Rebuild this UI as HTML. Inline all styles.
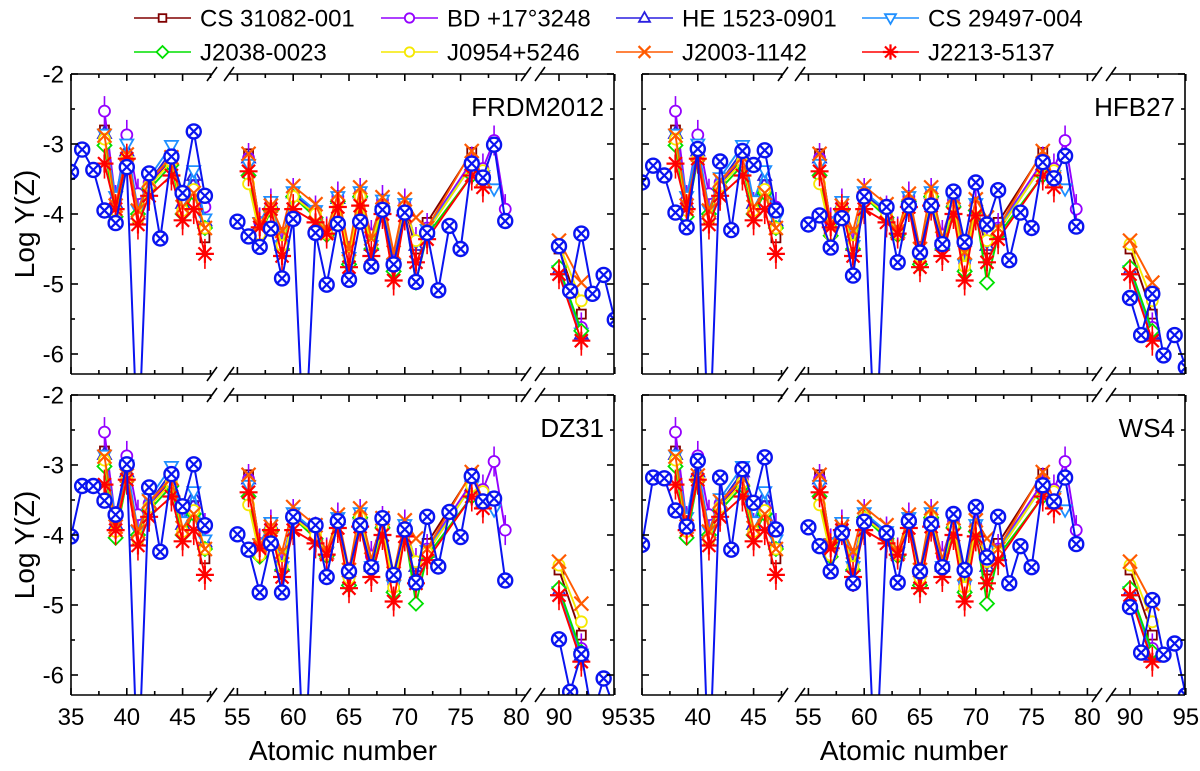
<!DOCTYPE html>
<html><head><meta charset="utf-8"><style>
html,body{margin:0;padding:0;background:#fff;}
svg{display:block;font-family:"Liberation Sans",Arial,sans-serif;}
</style></head><body>
<svg id="chart" width="1200" height="771" viewBox="0 0 1200 771" xmlns="http://www.w3.org/2000/svg"></svg>
<script>
// ---- data ----
const starNames = ["CS 31082-001","BD +17°3248","HE 1523-0901","CS 29497-004","J2038-0023","J0954+5246","J2003-1142","J2213-5137"];
const starZ = [38,39,40,41,42,44,45,46,47,56,57,58,59,60,62,63,64,65,66,67,68,69,70,71,72,76,77,78,79,90,92];
const cs31082 = [-2.8,-3.88,-3.18,-4.07,-3.6,-3.2,-3.95,-3.57,-4.34,-3.14,-4.15,-3.88,-4.45,-3.7,-4.0,-4.27,-3.8,-4.65,-3.72,-4.45,-3.85,-4.75,-3.9,-4.5,-4.12,-3.12,-3.45,null,null,-4.5,-5.43];
const bd17 = [-2.53,-3.8,-2.87,-3.71,-3.55,-3.2,-3.9,-3.6,-3.9,-3.2,-4.12,-3.85,-4.4,-3.7,-3.95,-4.25,-3.75,-4.6,-3.7,-4.3,-3.8,-4.7,-3.85,-4.4,-4.2,-3.25,-3.35,-2.95,-3.93,null,-5.62];
const he1523 = [-2.85,-3.85,-3.1,-4.0,-3.55,-3.1,-3.85,-3.45,-4.1,-3.2,-4.15,-3.85,-4.45,-3.7,-4.0,-4.27,-3.78,-4.65,-3.7,-4.45,-3.82,-4.75,-3.88,-4.45,-4.25,-3.3,-3.45,null,null,-4.8,-5.72];
const cs29497 = [-2.86,-3.75,-3.0,-3.94,-3.48,-3.02,-3.81,-3.38,-4.07,-3.29,-4.12,-3.82,-4.45,-3.68,-3.95,-4.25,-3.75,-4.62,-3.68,-4.45,-3.8,-4.72,-3.85,-4.4,-4.22,-3.3,-3.45,-3.64,null,-4.81,-5.7];
const j2038 = [-3.02,-4.04,-3.22,-4.0,-3.65,-3.3,-4.0,-3.7,-4.2,-3.45,-4.31,-3.95,-4.5,-3.75,-4.05,-4.3,-3.82,-4.72,-3.75,-4.5,-3.9,-4.82,-3.95,-4.98,-4.3,-3.45,-3.5,null,null,-4.76,-5.67];
const j0954 = [-2.93,-3.95,-3.2,-4.06,-3.6,-3.25,-3.95,-3.65,-4.2,-3.57,-4.29,-3.92,-4.45,-3.75,-4.0,-4.28,-3.82,-4.62,-3.75,-4.45,-3.88,-4.75,-3.9,-4.38,-4.25,-3.3,-3.38,null,null,-4.43,-5.24];
const j2003 = [-2.88,-3.88,-3.15,-3.95,-3.52,-3.19,-3.9,-3.7,-4.2,-3.14,-4.15,-3.88,-4.24,-3.6,-3.86,-4.25,-3.71,-4.5,-3.62,-4.35,-3.76,-4.55,-3.79,-4.05,-4.2,-3.1,-3.5,null,null,-4.38,-4.98];
const j2213 = [-3.28,-3.93,-3.21,-4.15,-3.74,-3.45,-4.09,-3.93,-4.57,-3.39,-4.19,-3.93,-4.6,-3.93,-4.12,-4.28,-3.9,-4.76,-3.88,-4.6,-4.0,-4.95,-4.02,-4.69,-4.36,-3.45,-3.62,null,null,-4.86,-5.81];
const modelZ = [35,36,37,38,39,40,41,42,43,44,45,46,47,55,56,57,58,59,60,61,62,63,64,65,66,67,68,69,70,71,72,73,74,75,76,77,78,79,90,91,92,93,94,95];
const frdmY = [-3.40,-3.08,-3.37,-3.95,-4.13,-3.33,-7.5,-3.42,-4.35,-3.18,-3.70,-2.82,-3.74,-4.11,-4.32,-4.47,-4.21,-4.92,-4.07,-7.5,-4.27,-5.01,-4.14,-4.94,-4.11,-4.75,-3.94,-4.72,-3.98,-4.97,-4.27,-5.09,-4.17,-4.5,-3.28,-3.48,-3.01,-4.1,-4.46,-5.1,-4.28,-5.14,-4.87,-5.51];
const hfbY = [-3.55,-3.31,-3.45,-3.98,-4.19,-3.07,-7.5,-3.25,-4.23,-3.1,-3.3,-3.09,-3.95,-4.15,-4.02,-4.48,-4.06,-4.88,-3.75,-7.5,-3.9,-4.69,-3.88,-4.55,-3.88,-4.43,-3.68,-4.4,-3.55,-4.15,-3.66,-4.66,-3.98,-4.2,-3.26,-3.49,-3.17,-4.18,-5.2,-5.73,-5.14,-6.02,-5.73,-6.19];
const dzY = [-4.02,-3.3,-3.3,-3.51,-3.71,-2.99,-7.5,-3.32,-4.24,-3.13,-3.59,-2.99,-3.86,-3.99,-4.21,-4.82,-4.12,-4.82,-3.74,-7.5,-3.86,-4.6,-3.8,-4.52,-3.86,-4.46,-3.76,-4.57,-3.92,-4.68,-3.74,-4.45,-3.67,-4.03,-3.16,-3.52,-3.48,-4.65,-5.49,-6.24,-5.7,-6.6,-6.05,-6.5];
const wsY = [-4.14,-3.18,-3.19,-3.65,-3.88,-2.94,-7.5,-3.18,-4.21,-3.06,-3.54,-2.89,-3.92,-3.89,-4.16,-4.52,-3.97,-4.69,-3.81,-7.5,-3.97,-4.68,-3.8,-4.52,-3.84,-4.46,-3.7,-4.5,-3.6,-4.32,-3.74,-4.69,-4.16,-4.46,-3.29,-3.52,-3.18,-4.13,-5.03,-5.68,-4.93,-5.71,-5.55,-6.29];
const yTicks = [-2,-3,-4,-5,-6];
const xTicks = [35,40,45,55,60,65,70,75,80,90,95];

const NS = "http://www.w3.org/2000/svg";
const svg = document.getElementById("chart");
function mk(tag, attrs, parent){const e=document.createElementNS(NS,tag);for(const k in attrs)e.setAttribute(k,attrs[k]);(parent||svg).appendChild(e);return e;}

const PX = 11.16, PW = 543, PH = 300;
function seg(z){return z<50?0:(z<85?1:2);}
function xmap(z,x0){if(z<50)return x0+(z-35)*PX; if(z<85)return x0+166.4+(z-55)*PX; return x0+488+(z-90)*PX;}
function ymap(v,y0){return y0+(-2-v)*70;}

const starStyles = [
 {c:"#800000",m:"square"},{c:"#9400ff",m:"circle"},{c:"#2a1fe0",m:"tri"},{c:"#1e8fff",m:"dtri"},
 {c:"#00e000",m:"diamond"},{c:"#f5e800",m:"circle"},{c:"#ff5a00",m:"x"},{c:"#ff0000",m:"star"}];
const starData = [cs31082,bd17,he1523,cs29497,j2038,j0954,j2003,j2213];

function marker(g,type,x,y,c,s){
  s=s||1;const sw=1.8;
  if(type==="square") mk("rect",{x:x-4.5*s,y:y-4.5*s,width:9*s,height:9*s,fill:"#fff",stroke:c,"stroke-width":sw},g);
  else if(type==="circle") mk("circle",{cx:x,cy:y,r:5.5*s,fill:"#fff",stroke:c,"stroke-width":sw},g);
  else if(type==="tri") mk("polygon",{points:`${x},${y-7*s} ${x-6.5*s},${y+4.5*s} ${x+6.5*s},${y+4.5*s}`,fill:"#fff",stroke:c,"stroke-width":sw},g);
  else if(type==="dtri") mk("polygon",{points:`${x},${y+7*s} ${x-6.5*s},${y-4.5*s} ${x+6.5*s},${y-4.5*s}`,fill:"#fff",stroke:c,"stroke-width":sw},g);
  else if(type==="diamond") mk("polygon",{points:`${x},${y-7*s} ${x+7*s},${y} ${x},${y+7*s} ${x-7*s},${y}`,fill:"#fff",stroke:c,"stroke-width":sw},g);
  else if(type==="x") mk("path",{d:`M${x-7*s},${y-7*s}L${x+7*s},${y+7*s}M${x-7*s},${y+7*s}L${x+7*s},${y-7*s}`,stroke:c,"stroke-width":2.2,fill:"none"},g);
  else if(type==="star") mk("path",{d:`M${x-6.5*s},${y-6.5*s}L${x+6.5*s},${y+6.5*s}M${x-6.5*s},${y+6.5*s}L${x+6.5*s},${y-6.5*s}M${x},${y-9*s}L${x},${y+9*s}M${x-9*s},${y}L${x+9*s},${y}`,stroke:c,"stroke-width":2.2,fill:"none"},g);
}

function drawPanel(x0,y0,label,modelY,idx,showY){
  const clipId="clip"+idx;
  const cp=mk("clipPath",{id:clipId});mk("rect",{x:x0,y:y0,width:PW,height:PH},cp);
  const panel=mk("g",{});
  
  
  const plot=mk("g",{"clip-path":`url(#${clipId})`},panel);
  starData.forEach((arr,si)=>{
    const st=starStyles[si];
    const g=mk("g",{},plot);
    
    
    let d="",prev=null;
    starZ.forEach((z,i)=>{const v=arr[i];if(v===null)return;const x=xmap(z,x0),y=ymap(v,y0);
      if(prev!==null&&seg(prev)===seg(z))d+=`L${x},${y}`;else d+=`M${x},${y}`;prev=z;});
    mk("path",{d:d,fill:"none",stroke:st.c,"stroke-width":1.9},g);
    starZ.forEach((z,i)=>{const v=arr[i];if(v===null)return;const x=xmap(z,x0),y=ymap(v,y0);
      if(si===7||si===1) mk("line",{x1:x,y1:y-15,x2:x,y2:y+15,stroke:st.c,"stroke-width":1.6},g);
      marker(g,st.m,x,y,st.c);});
  });
  const mg=mk("g",{},plot);
  
  
  let d="",prev=null;
  modelZ.forEach((z,i)=>{const x=xmap(z,x0),y=ymap(modelY[i],y0);
    if(prev!==null&&seg(prev)===seg(z))d+=`L${x},${y}`;else d+=`M${x},${y}`;prev=z;});
  mk("path",{d:d,fill:"none",stroke:"#0a14f0","stroke-width":2},mg);
  modelZ.forEach((z,i)=>{const x=xmap(z,x0),y=ymap(modelY[i],y0);
    mk("circle",{cx:x,cy:y,r:7,fill:"#fff",stroke:"#0a14f0","stroke-width":2.4},mg);
    mk("path",{d:`M${x-4.8},${y-4.8}L${x+4.8},${y+4.8}M${x-4.8},${y+4.8}L${x+4.8},${y-4.8}`,stroke:"#0a14f0","stroke-width":2.2},mg);});
  const fr=mk("g",{stroke:"#000","stroke-width":1.6,fill:"none"},panel);
  mk("line",{x1:x0,y1:y0,x2:x0,y2:y0+PH},fr);
  mk("line",{x1:x0+PW,y1:y0,x2:x0+PW,y2:y0+PH},fr);
  const b1a=x0+141,b1b=x0+158,b2a=x0+455,b2b=x0+469;
  [y0,y0+PH].forEach(yy=>{
    mk("line",{x1:x0,y1:yy,x2:b1a,y2:yy},fr);
    mk("line",{x1:b1b,y1:yy,x2:b2a,y2:yy},fr);
    mk("line",{x1:b2b,y1:yy,x2:x0+PW,y2:yy},fr);
    [b1a,b1b,b2a,b2b].forEach(bx=>mk("line",{x1:bx-5,y1:yy+7,x2:bx+5,y2:yy-7},fr));
  });
  xTicks.forEach(z=>{const x=xmap(z,x0);
    mk("line",{x1:x,y1:y0+PH,x2:x,y2:y0+PH-7},fr);mk("line",{x1:x,y1:y0,x2:x,y2:y0+7},fr);
    if(z!==95&&z!==80&&z!==47){const xm=xmap(z+2.5,x0);mk("line",{x1:xm,y1:y0+PH,x2:xm,y2:y0+PH-4},fr);mk("line",{x1:xm,y1:y0,x2:xm,y2:y0+4},fr);}
  });
  for(let v=-2;v>=-6.01;v-=0.5){const y=ymap(v,y0),L=(Math.abs(v-Math.round(v))<0.01)?7:4;
    mk("line",{x1:x0,y1:y,x2:x0+L,y2:y},fr);mk("line",{x1:x0+PW,y1:y,x2:x0+PW-L,y2:y},fr);}
  if(showY){yTicks.forEach(v=>{const t=mk("text",{x:x0-7,y:ymap(v,y0)+8.5,"text-anchor":"end","font-size":24},panel);t.textContent=String(v);
    });}
  const lt=mk("text",{x:x0+PW-10,y:y0+42,"text-anchor":"end","font-size":26},panel);lt.textContent=label;
  
}
drawPanel(71,74,"FRDM2012",frdmY,0,true);
drawPanel(642,74,"HFB27",hfbY,1,false);
drawPanel(71,395,"DZ31",dzY,2,true);
drawPanel(642,395,"WS4",wsY,3,false);

[71,642].forEach((x0,pi)=>{
  xTicks.forEach(z=>{const t=mk("text",{x:xmap(z,x0),y:725,"text-anchor":"middle","font-size":24});t.textContent=String(z);
    });
  const at=mk("text",{x:x0+272,y:760,"text-anchor":"middle","font-size":28});at.textContent="Atomic number";
  
});
[74,395].forEach(y0=>{const cy=y0+150;const t=mk("text",{x:0,y:0,"text-anchor":"middle","font-size":28,transform:`translate(34,${cy}) rotate(-90)`});t.textContent="Log Y(Z)";
  });

const legX=[134,381,616,862], legY=[18,52];
starNames.forEach((n,i)=>{
  const lx=legX[i%4], ly=legY[Math.floor(i/4)], st=starStyles[i];
  const g=mk("g",{});
  
  
  mk("line",{x1:lx,y1:ly,x2:lx+57,y2:ly,stroke:st.c,"stroke-width":1.6},g);
  marker(g,st.m,lx+28.5,ly,st.c,0.85);
  const t=mk("text",{x:lx+66,y:ly+8.5,"font-size":24},g);t.textContent=n;
});
</script>
</body></html>
